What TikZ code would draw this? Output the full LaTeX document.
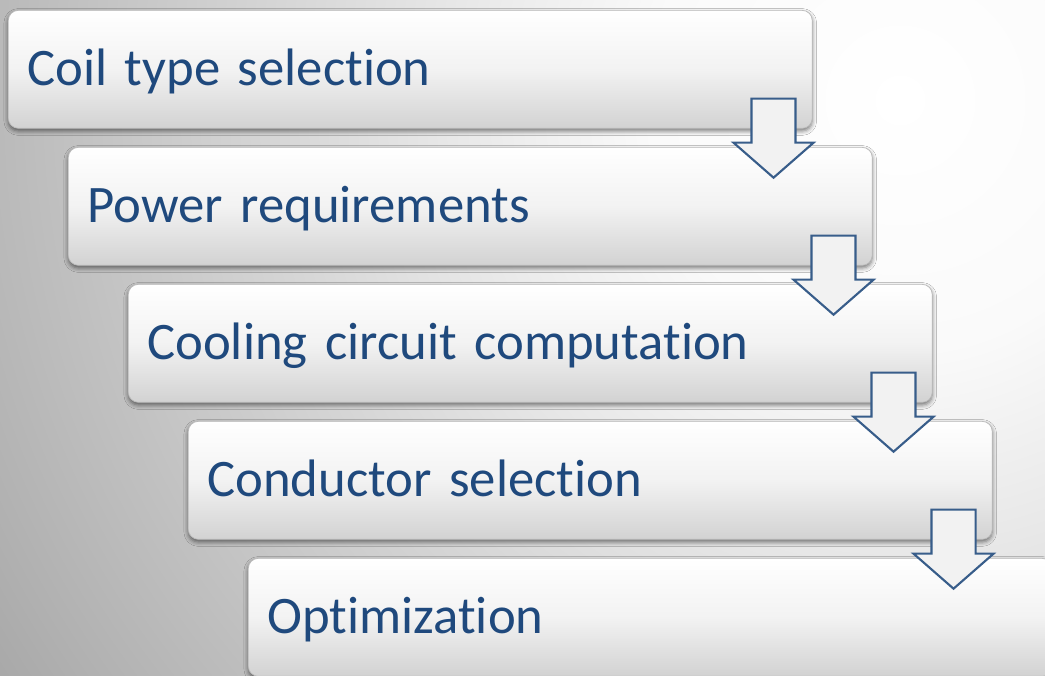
\documentclass[tikz,border=0pt]{standalone}
\usepackage{fontspec}
\setmainfont{Carlito}[Ligatures={NoCommon}, WordSpace=0.85]
\usepackage{xcolor}
\usepackage{tikz}
\usetikzlibrary{shadows.blur}
\definecolor{textblue}{HTML}{1F497D}
\definecolor{arrowblue}{HTML}{385D8A}
\definecolor{boxgray}{HTML}{D2D2D2}
\definecolor{bgA}{HTML}{FAFAFA}
\definecolor{bgB}{HTML}{E8E8E8}
\definecolor{bgC}{HTML}{B0B0B0}
\definecolor{bgD}{HTML}{A0A0A0}
\pgfdeclareradialshading{bgglow}{\pgfpoint{0cm}{0cm}}{color(0cm)=(white); color(5cm)=(bgA); color(9cm)=(bgB); color(20cm)=(bgC); color(23cm)=(bgD)}

\begin{document}
\begin{tikzpicture}[x=0.02cm, y=-0.02cm,
    stepbox/.style={anchor=north west, rectangle, rounded corners=0.2cm,
        draw=gray!55, line width=0.4pt,
        top color=white, bottom color=boxgray, middle color=white!95!black,
        blur shadow={shadow xshift=0pt, shadow yshift=-1.5pt, shadow blur radius=2.5pt, shadow opacity=55},
        inner xsep=0.38cm, text width=15.32cm, minimum height=2.36cm, align=left,
        text height=0.82cm, text depth=0.18cm,
        font=\fontsize{30}{34}\selectfont, text=textblue},
    flowarrow/.pic={
        \draw[draw=arrowblue, line width=1.2pt, fill=white!95!black, line join=miter]
            (-22,0) -- (22,0) -- (22,44) -- (40,44) -- (0,79) -- (-40,44) -- (-22,44) -- cycle;}]
        \useasboundingbox (0,0) rectangle (1045,676);
        \clip (0,0) rectangle (1045,676);
        % Background
        \fill [bgD] (0,0) rectangle (1045,676);
        \node [inner sep=0pt] (glow) at (900,100) {\pgfuseshading{bgglow}};
        % Steps
        \foreach \txt [count=\i] in {Coil type selection, Power requirements,
                Cooling circuit computation, Conductor selection, Optimization}
            \node [stepbox] (s\i) at ({8+60*(\i-1)}, {10+137*(\i-1)}) {\txt};
        % % Arrows
        \foreach \i in {1,...,4}
            \pic at ([shift={(-39,-30)}]s\i.south east) {flowarrow};
    \end{tikzpicture}
\end{document}
